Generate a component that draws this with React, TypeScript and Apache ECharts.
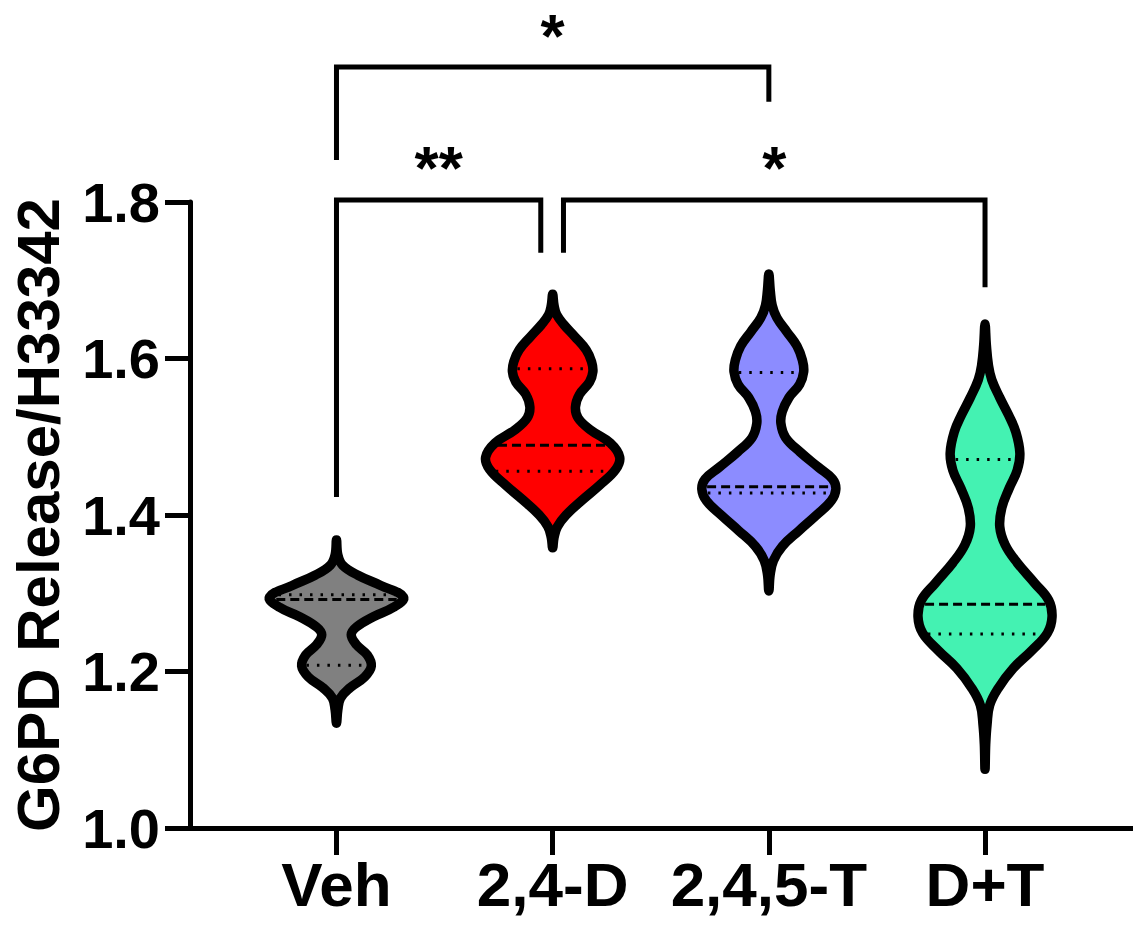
import React, { useEffect, useRef } from "react";
import * as echarts from "echarts";

const categories = ["Veh", "2,4-D", "2,4,5-T", "D+T"];
const colors = ["#808080", "#ff0000", "#8c8cff", "#44f2b2"];

// violin density profiles: [value, relative half-width]
const vehProfile = [
  [1.368, 0], [1.349, 0.02], [1.336, 0.09], [1.323, 0.32], [1.31, 0.66], [1.295, 1.0],
  [1.282, 0.85], [1.27, 0.55], [1.257, 0.3], [1.247, 0.22], [1.234, 0.3], [1.221, 0.46],
  [1.207, 0.52], [1.193, 0.42], [1.179, 0.2], [1.166, 0.06], [1.151, 0.02], [1.134, 0],
];
const d24Profile = [
  [1.682, 0], [1.668, 0.02], [1.656, 0.06], [1.643, 0.17], [1.628, 0.33], [1.611, 0.5],
  [1.596, 0.58], [1.583, 0.6], [1.57, 0.55], [1.554, 0.4], [1.538, 0.34], [1.524, 0.38],
  [1.509, 0.56], [1.492, 0.86], [1.474, 1.0], [1.458, 0.94], [1.438, 0.7], [1.419, 0.44],
  [1.4, 0.2], [1.385, 0.07], [1.371, 0.02], [1.358, 0],
];
const t245Profile = [
  [1.708, 0], [1.688, 0.02], [1.668, 0.05], [1.652, 0.12], [1.634, 0.27], [1.616, 0.42],
  [1.598, 0.5], [1.583, 0.52], [1.567, 0.46], [1.55, 0.3], [1.532, 0.2], [1.517, 0.18],
  [1.499, 0.25], [1.481, 0.46], [1.461, 0.74], [1.446, 0.95], [1.433, 1.0], [1.418, 0.93],
  [1.399, 0.7], [1.38, 0.45], [1.36, 0.2], [1.342, 0.07], [1.324, 0.02], [1.303, 0],
];
const dtProfile = [
  [1.644, 0], [1.617, 0.02], [1.592, 0.05], [1.573, 0.1], [1.55, 0.22], [1.528, 0.35],
  [1.506, 0.46], [1.479, 0.52], [1.457, 0.48], [1.434, 0.36], [1.409, 0.25], [1.385, 0.22],
  [1.362, 0.3], [1.339, 0.48], [1.313, 0.74], [1.291, 0.95], [1.27, 1.0], [1.249, 0.93],
  [1.227, 0.7], [1.204, 0.42], [1.179, 0.2], [1.157, 0.07], [1.132, 0.03], [1.107, 0.01],
  [1.075, 0],
];
const profiles = [vehProfile, d24Profile, t245Profile, dtProfile];

// quartiles: [Q1, median, Q3]
const vehQuartiles = [1.208, 1.292, 1.298];
const d24Quartiles = [1.456, 1.489, 1.587];
const t245Quartiles = [1.428, 1.436, 1.582];
const dtQuartiles = [1.248, 1.286, 1.471];
const quartiles = [vehQuartiles, d24Quartiles, t245Quartiles, dtQuartiles];

// brackets: [x1, x2, yLine, yLeftEnd, yRightEnd]
const brackets = [
  [1, 3, 1.9725, 1.8537, 1.928],
  [1, 1.945, 1.8026, 1.423, 1.735],
  [2.05, 4, 1.8026, 1.735, 1.691],
];
const bracketLabels = ["*", "**", "*"];

const yTicks = [1.0, 1.2, 1.4, 1.6, 1.8];

const HALF = 0.31;
const FONT = "Liberation Sans, Arial, Helvetica, sans-serif";

function widthAt(prof: number[][], q: number) {
  for (let i = 0; i < prof.length - 1; i++) {
    const [v1, w1] = prof[i];
    const [v2, w2] = prof[i + 1];
    if ((q <= v1 && q >= v2) || (q >= v1 && q <= v2)) {
      const t = v1 === v2 ? 0 : (q - v1) / (v2 - v1);
      return w1 + t * (w2 - w1);
    }
  }
  return 0;
}

export default function App() {
  const ref = useRef<HTMLDivElement>(null);
  useEffect(() => {
    document.body.style.margin = "0";
    const chart = echarts.init(ref.current!, null, { renderer: "svg" });
    const option: any = {
      animation: false,
      backgroundColor: "#ffffff",
      grid: { left: 190, right: 0, top: 202, bottom: 112 },
      xAxis: {
        type: "value",
        min: 0.3224,
        max: 4.6845,
        splitLine: { show: false },
        axisLine: { show: true, lineStyle: { color: "#000", width: 5 } },
        axisTick: { show: true, customValues: [1, 2, 3, 4], length: 27, lineStyle: { color: "#000", width: 5 } },
        axisLabel: {
          show: true,
          customValues: [1, 2, 3, 4],
          formatter: (v: number) => categories[Math.round(v) - 1] ?? "",
          color: "#000",
          fontSize: 62,
          fontWeight: "bold",
          fontFamily: FONT,
          margin: 25,
        },
      },
      yAxis: {
        type: "value",
        min: 1.0,
        max: 1.8,
        interval: 0.2,
        name: "G6PD Release/H33342",
        nameLocation: "middle",
        nameGap: 122,
        nameTextStyle: { color: "#000", fontSize: 60, fontWeight: "bold", fontFamily: FONT },
        splitLine: { show: false },
        axisLine: { show: true, lineStyle: { color: "#000", width: 5 } },
        axisTick: { show: true, length: 25, lineStyle: { color: "#000", width: 5 } },
        axisLabel: {
          color: "#000",
          fontSize: 56,
          fontWeight: "bold",
          fontFamily: FONT,
          margin: 30,
          formatter: (v: number) => (yTicks.some((t) => Math.abs(t - v) < 1e-6) ? v.toFixed(1) : ""),
        },
      },
      series: [
        {
          type: "custom",
          clip: false,
          data: categories.map((_, i) => [i + 1, i]),
          renderItem: (params: any, api: any) => {
            const cx = api.value(0);
            const gi = api.value(1);
            const prof = profiles[gi];
            const right = prof.map(([v, w]) => api.coord([cx + w * HALF, v]));
            const left = prof
              .slice(1, -1)
              .reverse()
              .map(([v, w]) => api.coord([cx - w * HALF, v]));
            const pts = right.concat(left);
            const children: any[] = [
              {
                type: "polygon",
                shape: { points: pts, smooth: 0.4 },
                style: { fill: colors[gi], stroke: "#000", lineWidth: 9.5, lineJoin: "round" },
              },
            ];
            quartiles[gi].forEach((q, k) => {
              const w = widthAt(prof, q);
              const p1 = api.coord([cx - w * HALF, q]);
              const p2 = api.coord([cx + w * HALF, q]);
              const inset = 4.5;
              children.push({
                type: "line",
                shape: { x1: p1[0] + inset, y1: p1[1], x2: p2[0] - inset, y2: p2[1] },
                style: {
                  stroke: "#000",
                  lineWidth: 3,
                  lineDash: k === 1 ? [9, 5] : [2.5, 8],
                },
              });
            });
            return { type: "group", children };
          },
        },
        {
          type: "custom",
          clip: false,
          data: brackets.map((b, i) => [...b, i]),
          renderItem: (params: any, api: any) => {
            const x1 = api.value(0);
            const x2 = api.value(1);
            const yl = api.value(2);
            const yL = api.value(3);
            const yR = api.value(4);
            const idx = api.value(5);
            const pA = api.coord([x1, yL]);
            const pB = api.coord([x1, yl]);
            const pC = api.coord([x2, yl]);
            const pD = api.coord([x2, yR]);
            return {
              type: "group",
              children: [
                {
                  type: "polyline",
                  shape: { points: [pA, pB, pC, pD] },
                  style: { stroke: "#000", lineWidth: 5, fill: "none", lineJoin: "miter" },
                },
                {
                  type: "text",
                  x: (pB[0] + pC[0]) / 2,
                  y: pB[1] - 63,
                  style: {
                    text: bracketLabels[idx],
                    fill: "#000",
                    fontSize: 62,
                    fontWeight: "bold",
                    fontFamily: FONT,
                    align: "center",
                    verticalAlign: "top",
                  },
                },
              ],
            };
          },
        },
      ],
    };
    chart.setOption(option);
    return () => chart.dispose();
  }, []);
  return <div ref={ref} style={{ width: 1133, height: 940 }} />;
}
